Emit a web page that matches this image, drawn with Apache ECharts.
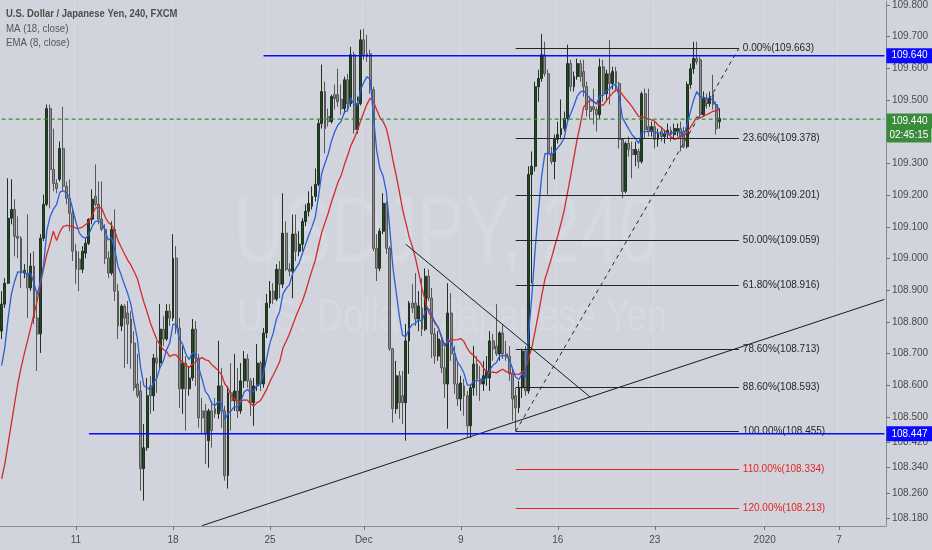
<!DOCTYPE html>
<html>
<head>
<meta charset="utf-8">
<title>USDJPY 240</title>
<script src="https://cdn.jsdelivr.net/npm/echarts@6/dist/echarts.min.js"></script>
<style>
html,body{margin:0;padding:0;background:#d1d4dc;overflow:hidden}
#chart{width:932px;height:550px}
</style>
</head>
<body>
<div id="chart"></div>
<script>
// ---------------- data ----------------
const slotCount = 274;                       // bar slots incl. empty future area
const tickIndex = [23, 53, 83, 112, 142, 172, 202, 236, 259];
const tickText  = ['11', '18', '25', 'Dec', '9', '16', '23', '2020', '7'];
const yTickValues = [109.8, 109.7, 109.6, 109.5, 109.3, 109.2, 109.1, 109.0, 108.9, 108.8, 108.7, 108.6, 108.5, 108.42, 108.34, 108.26, 108.18];
const yMin = 108.1559, yMax = 109.8116;

// 4h candles: [open, close, low, high]
const ohlc = [
[108.771,108.856,108.746,108.897],[108.856,108.922,108.844,108.938],[108.922,109.127,108.919,109.253],[109.127,109.155,109.108,109.250],
[109.155,109.070,109.007,109.187],[109.070,109.064,109.001,109.133],[109.064,108.954,108.907,109.070],[108.954,108.963,108.938,108.982],
[108.954,108.907,108.812,109.139],[108.907,108.976,108.897,109.017],[108.976,108.812,108.793,109.023],[108.812,108.762,108.645,108.897],
[108.762,109.064,108.702,109.077],[109.064,109.171,109.055,109.202],[109.171,109.473,109.165,109.486],[109.473,109.281,109.158,109.486],
[109.281,109.237,109.212,109.410],[109.237,109.221,109.206,109.250],[109.250,109.347,109.243,109.369],[109.347,109.228,109.212,109.479],
[109.228,109.190,109.171,109.243],[109.190,109.143,109.086,109.250],[109.143,109.023,108.992,109.158],[109.023,108.966,108.919,109.045],
[108.998,108.966,108.897,109.023],[108.966,109.023,108.954,109.039],[109.017,109.048,109.001,109.064],[109.048,109.124,109.042,109.127],
[109.124,109.187,109.108,109.218],[109.196,109.171,109.165,109.297],[109.171,109.124,109.108,109.243],[109.124,109.092,109.086,109.243],
[109.092,109.001,108.982,109.108],[109.001,108.954,108.938,109.023],[108.954,109.092,108.947,109.117],[109.092,108.897,108.866,109.155],
[108.897,108.787,108.746,108.919],[108.787,108.850,108.771,108.856],[108.850,108.812,108.655,108.856],[108.828,108.793,108.667,108.866],
[108.809,108.733,108.652,108.834],[108.733,108.592,108.582,108.771],[108.604,108.567,108.560,108.699],[108.582,108.337,108.267,108.614],
[108.337,108.403,108.236,108.478],[108.403,108.567,108.393,108.623],[108.598,108.567,108.510,108.630],[108.567,108.686,108.519,108.699],
[108.686,108.670,108.576,108.740],[108.670,108.777,108.655,108.856],[108.777,108.746,108.724,108.818],[108.746,108.834,108.740,108.856],
[108.834,108.812,108.787,108.856],[108.812,109.001,108.803,109.077],[109.001,108.781,108.762,109.039],[108.781,108.589,108.529,108.812],
[108.589,108.670,108.510,108.724],[108.670,108.589,108.457,108.692],[108.589,108.623,108.567,108.661],[108.623,108.777,108.614,108.809],
[108.777,108.686,108.598,108.803],[108.686,108.497,108.466,108.699],[108.519,108.497,108.447,108.560],[108.519,108.447,108.352,108.541],
[108.425,108.519,108.340,108.526],[108.519,108.457,108.403,108.551],[108.526,108.510,108.497,108.560],[108.510,108.598,108.494,108.740],
[108.598,108.519,108.466,108.655],[108.519,108.315,108.299,108.535],[108.315,108.576,108.274,108.598],[108.576,108.551,108.457,108.670],
[108.551,108.582,108.519,108.699],[108.582,108.519,108.497,108.655],[108.519,108.614,108.510,108.670],[108.614,108.683,108.592,108.708],
[108.683,108.614,108.592,108.699],[108.614,108.545,108.504,108.623],[108.545,108.598,108.472,108.623],[108.598,108.670,108.582,108.730],
[108.670,108.604,108.582,108.677],[108.604,108.765,108.592,108.781],[108.765,108.859,108.749,108.888],[108.859,108.897,108.844,108.929],
[108.897,108.872,108.856,108.922],[108.872,108.966,108.866,108.982],[108.966,108.919,108.875,108.992],[108.919,109.080,108.907,109.206],
[109.080,108.966,108.960,109.117],[108.966,108.960,108.944,108.985],[108.960,109.077,108.875,109.139],[109.077,109.023,108.992,109.139],
[109.023,109.045,109.007,109.086],[109.045,109.117,109.023,109.127],[109.117,109.149,109.102,109.171],[109.149,109.174,109.133,109.212],
[109.165,109.196,109.155,109.228],[109.196,109.234,109.180,109.284],[109.234,109.426,109.228,109.439],[109.426,109.527,109.410,109.612],
[109.527,109.410,109.332,109.558],[109.448,109.432,109.416,109.473],[109.432,109.511,109.426,109.517],[109.517,109.505,109.470,109.549],
[109.517,109.495,109.479,109.599],[109.502,109.473,109.454,109.549],[109.473,109.564,109.457,109.574],[109.564,109.489,109.464,109.583],
[109.489,109.643,109.479,109.668],[109.643,109.407,109.394,109.653],[109.407,109.489,109.394,109.511],[109.489,109.690,109.483,109.722],
[109.690,109.643,109.627,109.725],[109.646,109.637,109.621,109.706],[109.646,109.533,109.520,109.659],[109.533,109.032,109.023,109.542],
[109.032,108.969,108.929,109.077],[108.969,109.086,108.960,109.095],[109.086,109.174,109.077,109.206],[109.174,109.032,109.014,109.180],
[109.032,108.715,108.708,109.039],[108.715,108.526,108.482,108.718],[108.526,108.630,108.510,108.677],[108.630,108.545,108.494,108.645],
[108.567,108.545,108.478,108.645],[108.545,108.740,108.425,108.793],[108.740,108.859,108.636,108.866],[108.859,108.844,108.828,108.919],
[108.859,108.809,108.787,108.954],[108.809,108.850,108.771,108.897],[108.844,108.777,108.755,108.938],[108.777,108.944,108.771,108.969],
[108.944,108.875,108.866,108.966],[108.875,108.762,108.686,108.907],[108.762,108.692,108.667,108.781],[108.692,108.746,108.677,108.771],
[108.740,108.655,108.639,108.755],[108.655,108.604,108.560,108.718],[108.604,108.828,108.463,108.922],[108.828,108.699,108.677,108.891],
[108.699,108.604,108.573,108.724],[108.604,108.557,108.535,108.677],[108.557,108.607,108.519,108.630],[108.598,108.567,108.504,108.620],
[108.567,108.472,108.434,108.582],[108.472,108.592,108.434,108.604],[108.592,108.667,108.567,108.724],[108.667,108.620,108.567,108.692],
[108.620,108.604,108.551,108.661],[108.604,108.630,108.582,108.677],[108.623,108.645,108.598,108.692],[108.623,108.740,108.582,108.771],
[108.740,108.715,108.677,108.762],[108.724,108.699,108.692,108.856],[108.699,108.765,108.677,108.771],[108.765,108.699,108.683,108.793],
[108.699,108.692,108.677,108.740],[108.692,108.636,108.614,108.724],[108.636,108.557,108.488,108.655],[108.567,108.529,108.455,108.592],
[108.529,108.592,108.513,108.614],[108.592,108.708,108.560,108.715],[108.708,108.582,108.567,108.724],[108.582,109.265,108.573,109.291],
[109.265,109.291,108.922,109.338],[109.291,109.542,109.275,109.558],[109.542,109.568,109.495,109.596],[109.568,109.643,109.558,109.709],
[109.643,109.583,109.574,109.684],[109.583,109.332,109.202,109.596],[109.332,109.306,109.297,109.353],[109.306,109.376,109.250,109.391],
[109.376,109.391,109.363,109.432],[109.391,109.410,109.376,109.502],[109.410,109.442,109.401,109.464],[109.442,109.615,109.432,109.675],
[109.615,109.542,109.527,109.627],[109.542,109.574,109.527,109.590],[109.574,109.615,109.564,109.631],[109.615,109.574,109.558,109.627],
[109.590,109.542,109.511,109.627],[109.542,109.470,109.448,109.558],[109.479,109.464,109.439,109.511],[109.479,109.470,109.423,109.536],
[109.470,109.454,109.401,109.479],[109.454,109.605,109.442,109.631],[109.605,109.520,109.495,109.627],[109.520,109.583,109.495,109.596],
[109.583,109.552,109.486,109.690],[109.552,109.590,109.533,109.605],[109.590,109.552,109.527,109.605],[109.552,109.376,109.347,109.558],
[109.376,109.212,109.190,109.379],[109.212,109.363,109.206,109.369],[109.363,109.344,109.322,109.385],[109.344,109.328,109.253,109.369],
[109.328,109.344,109.291,109.369],[109.338,109.306,109.284,109.347],[109.306,109.520,109.300,109.527],[109.520,109.407,109.379,109.536],
[109.416,109.401,109.385,109.536],[109.401,109.416,109.385,109.432],[109.416,109.376,109.347,109.432],[109.376,109.394,109.353,109.410],
[109.401,109.385,109.369,109.416],[109.385,109.394,109.363,109.407],[109.394,109.404,109.379,109.426],[109.404,109.391,109.369,109.416],
[109.391,109.410,109.376,109.426],[109.401,109.410,109.385,109.426],[109.410,109.385,109.338,109.432],[109.401,109.353,109.347,109.416],
[109.353,109.549,109.347,109.558],[109.549,109.599,109.536,109.615],[109.599,109.631,109.583,109.684],[109.631,109.621,109.612,109.684],
[109.627,109.454,109.442,109.637],[109.454,109.505,109.448,109.527],[109.505,109.489,109.473,109.520],[109.489,109.505,109.479,109.527],
[109.520,109.486,109.470,109.580],[109.486,109.410,109.391,109.495],[109.432,109.442,109.410,109.473]
];

// MA(18) values for the first 17 bars (history before the window)
const ma18Head = [108.305,108.352,108.415,108.478,108.541,108.604,108.655,108.699,108.740,108.781,108.825,108.866,108.919,108.969,109.014,109.048,109.086];
const ema8Seed = 108.607;

// drawings
const fibPct    = [0, 23.6, 38.2, 50, 61.8, 78.6, 88.6, 100, 110, 120];
const fibPrice  = [109.663, 109.378, 109.201, 109.059, 108.916, 108.713, 108.593, 108.455, 108.334, 108.213];
const fibFrom = 159, fibTo = 228;
const resistLevel = 109.640, resistFrom = 81;
const supportLevel = 108.447, supportFrom = 27;
const lastPrice = 109.440, barTimer = '02:45:15';
const fallLine = [[125, 109.045], [182, 108.563]];
const riseLine = [[62, 108.157], [273, 108.871]];

// ---------------- build ----------------
const categories = Array.from({length: slotCount}, (_, i) => {
  const k = tickIndex.indexOf(i);
  return k >= 0 ? tickText[k] : 'b' + i;
});
const isTick = (i) => tickIndex.indexOf(i) >= 0;

const closes = ohlc.map(r => r[1]);
const ma18 = closes.map((c, i) => {
  if (i < 17) return ma18Head[i];
  let s = 0;
  for (let k = i - 17; k <= i; k++) s += closes[k];
  return +(s / 18).toFixed(4);
});
let ev = ema8Seed;
const ema8 = closes.map(c => { ev = ev + (c - ev) * 2 / 9; return +ev.toFixed(4); });

const FONT = '"Liberation Sans", Arial, sans-serif';
const BLUE = '#0a0aff', GREEN = '#2f8f2f';

// fib + trend lines (markLine on the EMA series)
const drawData = [];
fibPct.forEach((p, k) => {
  const col = p > 100 ? '#e3241e' : '#262626';
  drawData.push([
    {coord: [fibFrom, fibPrice[k]], lineStyle: {color: col, width: 1, type: 'solid'},
     label: {show: true, position: 'end', distance: 4, formatter: p.toFixed(2) + '%(' + fibPrice[k].toFixed(3) + ')', color: col, fontFamily: FONT, fontSize: 10}},
    {coord: [fibTo, fibPrice[k]]}
  ]);
});
drawData.push([
  {coord: [fibFrom, fibPrice[7]], lineStyle: {color: '#262626', width: 1, type: [4, 4]}, label: {show: false}},
  {coord: [fibTo, fibPrice[0]]}
]);
drawData.push([
  {coord: fallLine[0], lineStyle: {color: '#1a1a1a', width: 1, type: 'solid'}, label: {show: false}},
  {coord: fallLine[1]}
]);
drawData.push([
  {coord: riseLine[0], lineStyle: {color: '#1a1a1a', width: 1, type: 'solid'}, label: {show: false}},
  {coord: riseLine[1]}
]);

// horizontal price levels drawn as flat line series from their start bar to the right edge
function levelSeries(name, from, price, color, width, dash, endLabel) {
  return {
    type: 'line', name: name, silent: true, showSymbol: false, symbol: 'none', z: 6,
    data: categories.map((_, i) => (i >= from ? price : null)),
    lineStyle: {color: color, width: width, type: dash, opacity: 1},
    itemStyle: {color: color},
    endLabel: Object.assign({show: true, distance: 2, valueAnimation: false}, endLabel),
    emphasis: {disabled: true}
  };
}
const blueLabel = (v) => ({formatter: v.toFixed(3), color: '#ffffff', backgroundColor: BLUE, padding: [3, 5, 2, 5], fontFamily: FONT, fontSize: 10});

const chart = echarts.init(document.getElementById('chart'), null, {renderer: 'canvas'});
chart.setOption({
  animation: false,
  backgroundColor: '#d1d4dc',
  grid: {left: 0, right: 46, top: 0, bottom: 24, containLabel: false},
  xAxis: {
    type: 'category',
    data: categories,
    boundaryGap: true,
    axisLine: {show: true, lineStyle: {color: '#8a8d94'}},
    axisTick: {show: true, alignWithLabel: true, interval: (i) => isTick(i), length: 4, lineStyle: {color: '#6f7279'}},
    axisLabel: {interval: (i) => isTick(i), color: '#4a4a4a', fontFamily: FONT, fontSize: 10, margin: 9},
    splitLine: {show: true, interval: (i) => isTick(i), lineStyle: {color: '#d8dbe2', width: 1}}
  },
  yAxis: {
    type: 'value',
    position: 'right',
    min: yMin,
    max: yMax,
    axisLine: {show: true, lineStyle: {color: '#8a8d94'}},
    axisTick: {show: true, customValues: yTickValues, length: 4, lineStyle: {color: '#6f7279'}},
    axisLabel: {customValues: yTickValues, formatter: (v) => v.toFixed(3), color: '#4a4a4a', fontFamily: FONT, fontSize: 10, margin: 6},
    splitLine: {show: false}
  },
  graphic: [
    {type: 'text', x: 446, y: 236, scaleX: 0.74, z: 0, silent: true,
     style: {text: 'USDJPY, 240', fill: '#d6d9e0', font: 'normal 95px ' + FONT, align: 'center', verticalAlign: 'middle'}},
    {type: 'text', x: 452, y: 318, scaleX: 0.78, z: 0, silent: true,
     style: {text: 'U.S. Dollar / Japanese Yen', fill: '#d6d9e0', font: 'normal 46px ' + FONT, align: 'center', verticalAlign: 'middle'}},
    {type: 'text', x: 6, y: 14, scaleX: 0.86, z: 10, silent: true,
     style: {text: 'U.S. Dollar / Japanese Yen, 240, FXCM', fill: '#4d4d4d', font: 'bold 11px ' + FONT, verticalAlign: 'middle'}},
    {type: 'text', x: 6, y: 29, scaleX: 0.88, z: 10, silent: true,
     style: {text: 'MA (18, close)', fill: '#555555', font: 'normal 11px ' + FONT, verticalAlign: 'middle'}},
    {type: 'text', x: 6, y: 43, scaleX: 0.88, z: 10, silent: true,
     style: {text: 'EMA (8, close)', fill: '#555555', font: 'normal 11px ' + FONT, verticalAlign: 'middle'}}
  ],
  series: [
    {
      type: 'candlestick',
      data: ohlc,
      barWidth: '74%',
      itemStyle: {color: '#1f4a21', color0: '#8c8c8c', borderColor: '#22301f', borderColor0: '#575757', borderWidth: 1},
      z: 2
    },
    {
      type: 'line', name: 'MA 18', data: ma18, showSymbol: false, symbol: 'none',
      lineStyle: {color: '#d42a2a', width: 1.3}, itemStyle: {color: '#d42a2a'}, z: 3
    },
    {
      type: 'line', name: 'EMA 8', data: ema8, showSymbol: false, symbol: 'none',
      lineStyle: {color: '#2a5fd7', width: 1.3}, itemStyle: {color: '#2a5fd7'}, z: 4,
      markLine: {silent: true, symbol: ['none', 'none'], animation: false, data: drawData}
    },
    levelSeries('resistance', resistFrom, resistLevel, BLUE, 1.4, 'solid', blueLabel(resistLevel)),
    levelSeries('support', supportFrom, supportLevel, BLUE, 1.4, 'solid', blueLabel(supportLevel)),
    levelSeries('last', 0, lastPrice, GREEN, 1.3, [4, 3], {
      offset: [0, 9],
      formatter: '{a|' + lastPrice.toFixed(3) + '}\n{b|' + barTimer + '}',
      rich: {
        a: {color: '#fff', backgroundColor: '#3a8c3a', padding: [3, 5, 2, 5], fontFamily: FONT, fontSize: 10, lineHeight: 14},
        b: {color: '#fff', backgroundColor: '#3a8c3a', padding: [3, 3, 2, 3], fontFamily: FONT, fontSize: 10, lineHeight: 14}
      }
    })
  ]
});
</script>
</body>
</html>
